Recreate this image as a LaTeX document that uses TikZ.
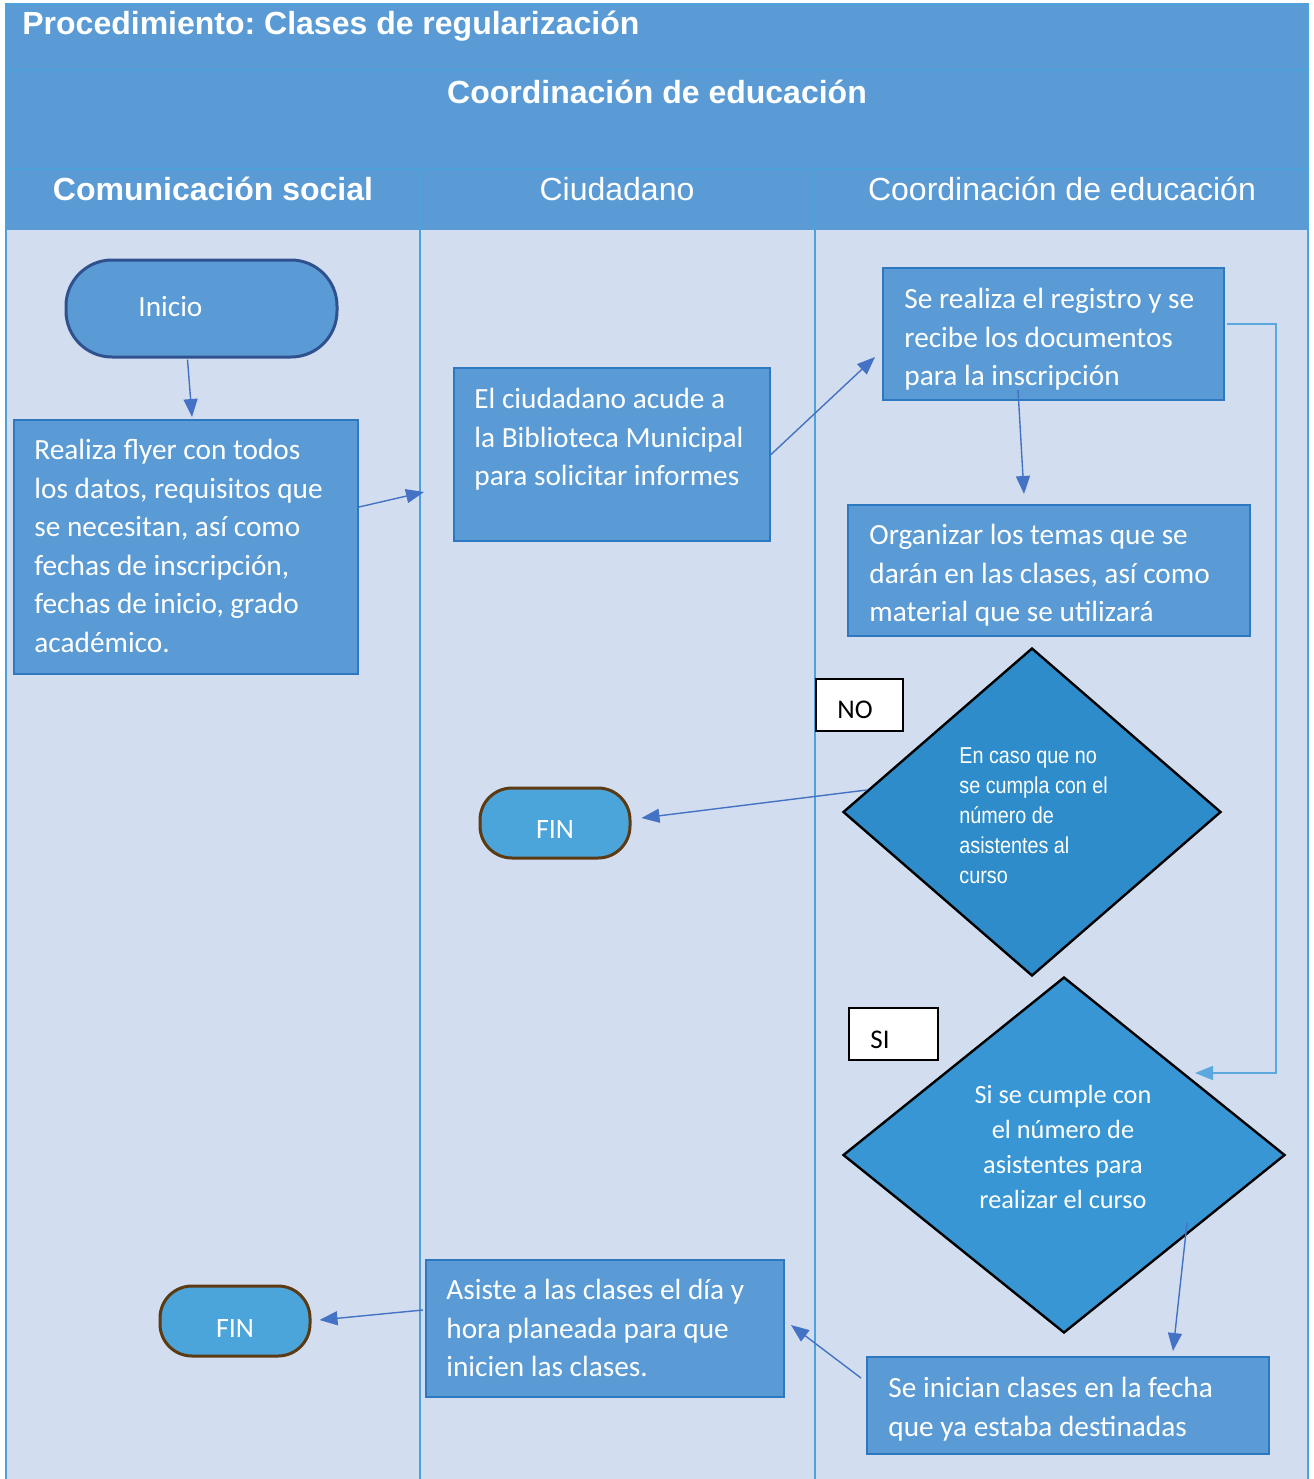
\documentclass[tikz,border=0pt]{standalone}
\usepackage{fontspec}
\setmainfont{Carlito}
\newfontfamily\hdrfont{Liberation Sans}
\newfontfamily\narrowfont[FakeStretch=0.86]{Liberation Sans}
\usetikzlibrary{shapes.geometric,arrows.meta,calc}
\frenchspacing
\definecolor{hdrblue}{HTML}{5B9BD5}
\definecolor{laneline}{HTML}{4EA2DC}
\definecolor{bodyfill}{HTML}{D2DEEF}
\definecolor{boxfill}{HTML}{5B9BD5}
\definecolor{boxline}{HTML}{2E78C2}
\definecolor{startline}{HTML}{2F528F}
\definecolor{finfill}{HTML}{4BA5DA}
\definecolor{finline}{HTML}{5C3A12}
\definecolor{dOne}{HTML}{2E8CCA}
\definecolor{dTwo}{HTML}{3896D4}
\definecolor{arrowblue}{HTML}{4472C4}
\definecolor{elbowblue}{HTML}{5AA8DE}
\newcommand{\bodyfont}{\fontsize{14.65}{19.3}\selectfont}
\newcommand{\tp}{\rule{0pt}{12pt}}
\tikzset{
  procbox/.style={draw=boxline, line width=1pt, fill=boxfill, inner sep=0pt},
  txt/.style={anchor=north west, inner sep=0pt, align=left, text=white, font=\bodyfont},
  startbox/.style={draw=startline, line width=1.5pt, fill=boxfill, inner sep=0pt, rounded corners=23pt},
  finbox/.style={draw=finline, line width=1.5pt, fill=finfill, inner sep=0pt, rounded corners=16pt},
  tagbox/.style={draw=black, line width=1pt, fill=white, inner sep=0pt},
  decision/.style={diamond, draw=black, line width=1.2pt, inner sep=0pt},
  arr/.style={draw=arrowblue, line width=0.7pt, -{Triangle[length=9pt,width=7pt]}},
  elbow/.style={draw=elbowblue, line width=0.8pt, -{Triangle[length=9pt,width=7pt]}},
  hdrtxt/.style={anchor=base, inner sep=0pt, text=white, font=\hdrfont\fontsize{16}{19}\selectfont},
}
\begin{document}
\begin{tikzpicture}[x=0.5pt,y=-0.5pt]
\useasboundingbox (0,0) rectangle (1313,1479);
% pool background
\fill[bodyfill] (6,230) rectangle (1309,1479);
\fill[hdrblue] (5,4) rectangle (1309,230);
\draw[laneline, line width=1pt] (5,70) -- (1309,70);
\draw[laneline, line width=1pt] (5,169) -- (1309,169);
\draw[laneline, line width=1pt] (6,4) -- (6,1479);
\draw[laneline, line width=1pt] (1308,4) -- (1308,1479);
\draw[laneline, line width=1pt] (5,4) -- (1309,4);
\draw[laneline, line width=1pt] (420,169) -- (420,1479);
\draw[laneline, line width=1pt] (815,169) -- (815,1479);
% header texts
\node[hdrtxt, anchor=base west, font=\hdrfont\bfseries\fontsize{16}{19}\selectfont] (title) at (22,34) {Procedimiento: Clases de regularización};
\node[hdrtxt, font=\hdrfont\bfseries\fontsize{16}{19}\selectfont] (pool) at (657,103) {Coordinación de educación};
\node[hdrtxt, font=\hdrfont\bfseries\fontsize{16}{19}\selectfont] (laneA) at (213,200) {Comunicación social};
\node[hdrtxt] (laneB) at (617,200) {Ciudadano};
\node[hdrtxt] (laneC) at (1062,200) {Coordinación de educación};
% start
\node[startbox, minimum width=135.5pt, minimum height=48.5pt] (inicio) at (201.5,308.5) {};
\node[anchor=base west, inner sep=0pt, text=white, font=\bodyfont] (inicio-t) at (138,316) {Inicio};
% process boxes
\node[procbox, minimum width=172pt, minimum height=127pt] (realiza) at (186,547) {};
\node[txt] (realiza-t) at (34,435) {\tp Realiza flyer con todos\\los datos, requisitos que\\se necesitan, así como\\fechas de inscripción,\\fechas de inicio, grado\\académico.};
\node[procbox, minimum width=158pt, minimum height=86.5pt] (ciud) at (612,454.5) {};
\node[txt] (ciud-t) at (474,384) {\tp El ciudadano acude a\\la Biblioteca Municipal\\para solicitar informes};
\node[procbox, minimum width=170.5pt, minimum height=66pt] (reg) at (1053.5,334) {};
\node[txt] (reg-t) at (904,284) {\tp Se realiza el registro y se\\recibe los documentos\\para la inscripción};
\node[procbox, minimum width=201pt, minimum height=65.5pt] (org) at (1049,570.5) {};
\node[txt] (org-t) at (869,520) {\tp Organizar los temas que se\\darán en las clases, así como\\material que se utilizará};
% decisions
\node[tagbox, minimum width=43.5pt, minimum height=26pt] (no) at (859.5,705) {};
\node[anchor=base, inner sep=0pt, font=\fontsize{13.5}{16}\selectfont] (no-t) at (855,718) {NO};
\node[decision, fill=dOne, minimum width=189pt, minimum height=164pt] (d1) at (1032,812) {};
\node[anchor=north west, inner sep=0pt, align=left, text=white, font=\narrowfont\fontsize{11.5}{15}\selectfont] (d1-t) at (959,744) {\rule{0pt}{9.5pt}En caso que no\\se cumpla con el\\número de\\asistentes al\\curso};
\node[finbox, minimum width=75pt, minimum height=35pt] (fin1) at (555,823) {};
\node[anchor=base, inner sep=0pt, text=white, font=\fontsize{14}{17}\selectfont] (fin1-t) at (555,838) {FIN};
\node[tagbox, minimum width=44.5pt, minimum height=26pt] (si) at (893.5,1034) {};
\node[anchor=base, inner sep=0pt, font=\fontsize{13.5}{16}\selectfont] (si-t) at (880,1048) {SI};
\node[decision, fill=dTwo, minimum width=221pt, minimum height=178pt] (d2) at (1064,1155) {};
\node[anchor=north, inner sep=0pt, align=center, text=white, font=\fontsize{13.15}{17.5}\selectfont] (d2-t) at (1063,1081) {\rule{0pt}{11pt}Si se cumple con\\el número de\\asistentes para\\realizar el curso};
\node[procbox, minimum width=201pt, minimum height=48.5pt] (inician) at (1068,1405.5) {};
\node[txt] (inician-t) at (888,1373) {\tp Se inician clases en la fecha\\que ya estaba destinadas};
\node[procbox, minimum width=179pt, minimum height=68.5pt] (asiste) at (605,1328.5) {};
\node[txt] (asiste-t) at (446,1275) {\tp Asiste a las clases el día y\\hora planeada para que\\inicien las clases.};
\node[finbox, minimum width=75pt, minimum height=35pt] (fin2) at (235,1321) {};
\node[anchor=base, inner sep=0pt, text=white, font=\fontsize{14}{17}\selectfont] (fin2-t) at (235,1337) {FIN};
% connectors
\coordinate (laneBin) at (424,492);
\draw[arr] ($(inicio.south)+(-14,1)$) -- ($(realiza.north)+(6,-2)$);
\draw[arr] ($(realiza.east)+(0,-40)$) -- (laneBin);
\draw[arr] (ciud.east) -- ($(reg.west)+(-7,23)$);
\draw[arr] ($(reg.south)+(-35.5,-11)$) -- ($(org.north)+(-25,-10)$);
\draw[arr] ($(d1.west)+(25,-22)$) -- ($(fin1.east)+(10,-5)$);
\draw[elbow] ($(reg.east)+(2,-10)$) -- ++(49,0) |- ($(d2.center)+(131,-82)$);
\draw[arr] ($(d2.center)+(123,68)$) -- ($(inician.north)+(105,-5)$);
\draw[arr] ($(inician.west)+(-5,-27.5)$) -- ($(asiste.east)+(6,-3.5)$);
\draw[arr] ($(asiste.west)+(-2,-18.5)$) -- ($(fin2.east)+(8,-1)$);
\end{tikzpicture}
\end{document}
